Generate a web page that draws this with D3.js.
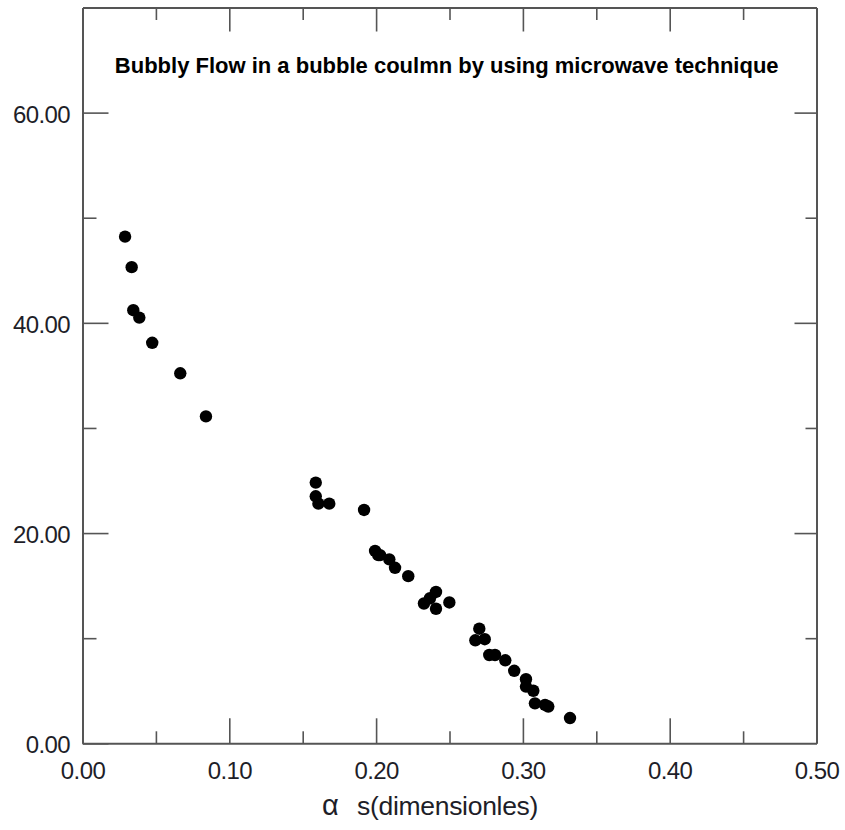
<!DOCTYPE html>
<html lang="en">
<head>
<meta charset="utf-8">
<title>Bubbly Flow</title>
<script src="https://cdn.jsdelivr.net/npm/d3@7"></script>
<style>
  body { margin: 0; background: #fff; }
  svg text { font-family: "Liberation Sans", Arial, sans-serif; }
  .axis path, .axis line { stroke: #555; }
  .axis path { stroke-width: 2; }
  .axis line { stroke-width: 1.6; }
  .axis text { font-size: 24px; fill: #1e1e28; letter-spacing: -0.6px; }
</style>
</head>
<body>
<script>
// alpha s (dimensionless) and measured value
let alphaS = [0.029, 0.0335, 0.0346, 0.0387, 0.0475, 0.0666, 0.0841,
  0.1589, 0.1589, 0.1607, 0.1681, 0.1918, 0.1993, 0.2015, 0.2027, 0.2090,
  0.2129, 0.2219, 0.2408, 0.2367, 0.2326, 0.2408, 0.2499, 0.2703, 0.2676,
  0.2740, 0.2771, 0.2810, 0.2880, 0.2941, 0.3021, 0.3021, 0.3071, 0.3082,
  0.3151, 0.3173, 0.3321]
let yVals = [48.2, 45.3, 41.2, 40.5, 38.1, 35.2, 31.1,
  24.8, 23.5, 22.8, 22.8, 22.2, 18.3, 17.9, 17.9, 17.5,
  16.7, 15.9, 14.4, 13.8, 13.3, 12.8, 13.4, 10.9, 9.8,
  9.9, 8.4, 8.4, 7.9, 6.9, 6.1, 5.4, 5.0, 3.8,
  3.65, 3.5, 2.4]

let xMajor = [0, 0.1, 0.2, 0.3, 0.4, 0.5]
let xMinor = [0.05, 0.15, 0.25, 0.35, 0.45]
let yMajor = [0, 20, 40, 60]
let yMinor = [10, 30, 50]
let yMajorRight = [20, 40, 60]
let yMinorRight = [10, 30, 50]

let title = "Bubbly Flow in a bubble coulmn by using microwave technique"

let w = 845, h = 830
let pLeft = 82.5, pRight = 816.5, pTop = 7.5, pBottom = 743.3

let svg = d3.select("body").append("svg")
  .attr("width", w)
  .attr("height", h)

let xScale = d3.scaleLinear().domain([0, 0.5]).range([pLeft, pRight])
let yScale = d3.scaleLinear().domain([0, 70]).range([pBottom, pTop])

// bottom axis, ticks point inward
svg.append("g")
  .attr("class", "axis")
  .attr("transform", "translate(0," + pBottom + ")")
  .call(d3.axisBottom(xScale).tickValues(xMajor).tickSizeInner(-25).tickSizeOuter(0)
    .tickPadding(19).tickFormat(d3.format(".2f")))
svg.append("g")
  .attr("class", "axis")
  .attr("transform", "translate(0," + pBottom + ")")
  .call(d3.axisBottom(xScale).tickValues(xMinor).tickSizeInner(-12).tickSizeOuter(0).tickFormat(""))
  .select(".domain").remove()

// top
svg.append("g")
  .attr("class", "axis")
  .attr("transform", "translate(0," + pTop + ")")
  .call(d3.axisTop(xScale).tickValues(xMajor.slice(1, -1)).tickSizeInner(-24).tickSizeOuter(0).tickFormat(""))
svg.append("g")
  .attr("class", "axis")
  .attr("transform", "translate(0," + pTop + ")")
  .call(d3.axisTop(xScale).tickValues(xMinor).tickSizeInner(-12.5).tickSizeOuter(0).tickFormat(""))
  .select(".domain").remove()

// left axis
let yl = svg.append("g")
  .attr("class", "axis")
  .attr("transform", "translate(" + pLeft + ",0)")
  .call(d3.axisLeft(yScale).tickValues(yMajor).tickSizeInner(-26).tickSizeOuter(0)
    .tickPadding(12.5).tickFormat(d3.format(".2f")))
yl.selectAll("text").attr("dy", "0.4em")
svg.append("g")
  .attr("class", "axis")
  .attr("transform", "translate(" + pLeft + ",0)")
  .call(d3.axisLeft(yScale).tickValues(yMinor).tickSizeInner(-14).tickSizeOuter(0).tickFormat(""))
  .select(".domain").remove()

// right
svg.append("g")
  .attr("class", "axis")
  .attr("transform", "translate(" + pRight + ",0)")
  .call(d3.axisRight(yScale).tickValues(yMajorRight).tickSizeInner(-22).tickSizeOuter(0).tickFormat(""))
svg.append("g")
  .attr("class", "axis")
  .attr("transform", "translate(" + pRight + ",0)")
  .call(d3.axisRight(yScale).tickValues(yMinorRight).tickSizeInner(-11).tickSizeOuter(0).tickFormat(""))
  .select(".domain").remove()

// points
svg.append("g")
  .selectAll("circle")
  .data(alphaS.map((a, i) => [a, yVals[i]]))
  .enter()
  .append("circle")
  .attr("cx", (d) => xScale(d[0]))
  .attr("cy", (d) => yScale(d[1]))
  .attr("r", 6.2)
  .attr("fill", "#000")

svg.append("text")
  .attr("x", 446.7)
  .attr("y", 73)
  .attr("text-anchor", "middle")
  .attr("font-size", "22px")
  .attr("font-weight", "bold")
  .attr("fill", "#000")
  .text(title)

// x axis title
svg.append("text")
  .attr("x", 322)
  .attr("y", 815)
  .attr("font-size", "29px")
  .attr("fill", "#1e1e28")
  .text("α")
svg.append("text")
  .attr("x", 357)
  .attr("y", 815)
  .attr("font-size", "26.5px")
  .attr("fill", "#1e1e28")
  .attr("letter-spacing", "-0.3px")
  .text("s(dimensionles)")
</script>
</body>
</html>
